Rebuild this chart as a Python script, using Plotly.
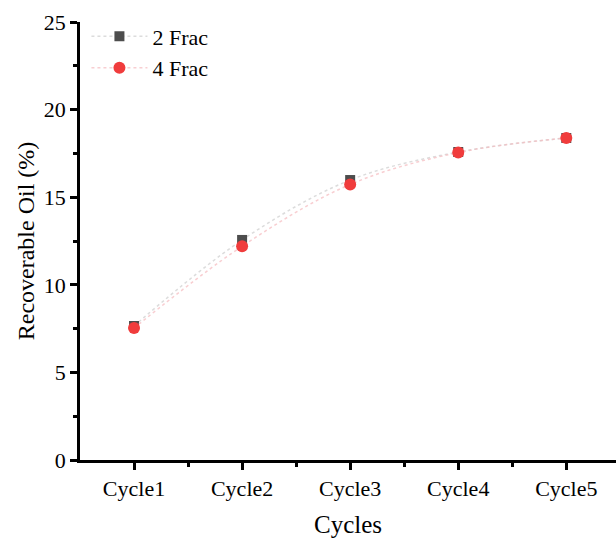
import plotly.graph_objects as go

categories = ["Cycle1", "Cycle2", "Cycle3", "Cycle4", "Cycle5"]
frac2 = [7.65, 12.56, 15.98, 17.58, 18.38]
frac4 = [7.53, 12.2, 15.73, 17.55, 18.38]
y_ticks = [0, 5, 10, 15, 20, 25]

xs = list(range(len(categories)))
FONT = "Liberation Serif, Times New Roman, serif"

fig = go.Figure()
fig.add_trace(go.Scatter(
    x=xs, y=frac2, name="2 Frac", mode="lines+markers",
    line=dict(shape="spline", dash="dot", color="rgba(205,205,205,0.7)", width=1.5),
    marker=dict(symbol="square", size=10, color="#4d4d4d"),
))
fig.add_trace(go.Scatter(
    x=xs, y=frac4, name="4 Frac", mode="lines+markers",
    line=dict(shape="spline", dash="dot", color="rgba(245,185,190,0.7)", width=1.5),
    marker=dict(symbol="circle", size=12, color="#f03c3c"),
))

fig.update_layout(
    width=616, height=538,
    margin=dict(l=80, r=0, t=22, b=78),
    plot_bgcolor="white", paper_bgcolor="white",
    font=dict(family=FONT, size=22, color="black"),
    showlegend=True,
    legend=dict(x=0.012, y=1.015, xanchor="left", yanchor="top",
                bgcolor="rgba(0,0,0,0)", font=dict(size=22),
                tracegroupgap=0, itemsizing="trace", itemwidth=56),
    xaxis=dict(
        range=[-0.5, 4.46], tickvals=xs, ticktext=categories,
        showgrid=False, zeroline=False, showline=True, linecolor="black", linewidth=2.5,
        ticks="outside", ticklen=7, tickwidth=2.5, tickcolor="black",
        minor=dict(tickvals=[0.5, 1.5, 2.5, 3.5], ticks="outside", ticklen=4,
                   tickwidth=2.5, tickcolor="black", showgrid=False),
        title=dict(text="Cycles", font=dict(size=25), standoff=16),
        tickfont=dict(size=22),
    ),
    yaxis=dict(
        range=[0, 25], tickvals=y_ticks,
        showgrid=False, zeroline=False, showline=True, linecolor="black", linewidth=2.5,
        ticks="outside", ticklen=7, tickwidth=2.5, tickcolor="black",
        minor=dict(dtick=2.5, tick0=0, ticks="outside", ticklen=4,
                   tickwidth=2.5, tickcolor="black", showgrid=False),
        title=dict(text="Recoverable Oil (%)", font=dict(size=24), standoff=3),
        tickfont=dict(size=22),
    ),
)

fig.write_html("out.html")
